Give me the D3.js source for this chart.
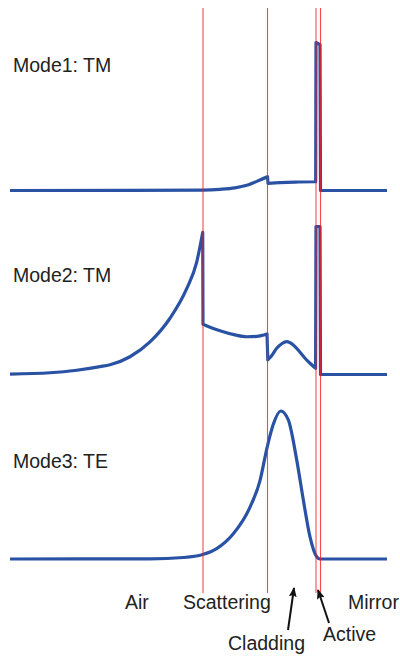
<!DOCTYPE html>
<html lang="en">
<head>
  <meta charset="UTF-8">
  <title>Mode profiles</title>
  <script src="https://d3js.org/d3.v7.min.js"></script>
  <style>
    html, body {
      margin: 0;
      padding: 0;
      background: #fff;
    }
    svg text {
      font-family: "Liberation Sans", Arial, Helvetica, sans-serif;
      font-size: 19.5px;
      fill: #222;
    }
  </style>
</head>
<body>
  <svg id="canvas" width="400" height="656"></svg>

  <script>
    // layer boundaries (position across the stack, arbitrary units)
    let boundaries = [193, 257.5, 306, 310.5]

    let modeLabels = ['Mode1: TM', 'Mode2: TM', 'Mode3: TE']

    // field amplitude, normalised to peak; each mode is a list of segments, jumps happen between segments
    let mode1 = [
      [[0, 0], [120, 0.001], [193, 0.003], [210, 0.008], [225, 0.018], [236.7, 0.035], [250, 0.071], [257.5, 0.093]],
      [[258, 0.048], [270, 0.053], [285, 0.057], [305.7, 0.059]],
      [[306, 1.0], [310, 0.985]],
      [[310.5, 0], [377, 0]]
    ]

    let mode2 = [
      [[0, 0.003], [40, 0.012], [65, 0.027], [90, 0.053], [100, 0.066], [120, 0.12], [140, 0.22], [160, 0.38], [176.7, 0.58], [186.7, 0.76], [192.7, 0.96]],
      [[193, 0.34], [200, 0.32], [210, 0.296], [225, 0.268], [236.7, 0.255], [247, 0.258], [257, 0.274]],
      [[257.8, 0.098], [262, 0.13], [266.7, 0.177], [271.7, 0.208], [276.7, 0.222], [283.3, 0.2], [290, 0.15], [295, 0.11], [300, 0.076], [305.6, 0.042]],
      [[306, 1.0], [310, 1.0]],
      [[310.5, 0], [377, 0]]
    ]

    let mode3 = [
      [[0, 0], [140, 0.001], [173.3, 0.01], [192.7, 0.03], [206.7, 0.07], [223.3, 0.17], [240, 0.35], [250, 0.53], [257.3, 0.76],
       [263.3, 0.91], [270.7, 1.0], [278.3, 0.94], [286.7, 0.67], [293.3, 0.40], [300, 0.15], [306.7, 0.015], [310, 0], [377, 0]]
    ]

    let modes = [mode1, mode2, mode3]

    let regionLabels = ['Air', 'Scattering', 'Cladding', 'Active', 'Mirror']

    let canvas = d3.select('#canvas')

    let xScale = d3.scaleLinear().domain([0, 377]).range([10, 387])

    // one panel per mode, baseline and height in px
    let baselines = [190.5, 374.5, 559]
    let panelHeight = 148

    let drawModes = () => {
      modes.forEach((segments, i) => {
        let yScale = d3.scaleLinear().domain([0, 1]).range([baselines[i], baselines[i] - panelHeight])
        let line = d3.line()
          .x(d => xScale(d[0]))
          .y(d => yScale(d[1]))
          .curve(d3.curveMonotoneX)
        // join segments with straight vertical jumps
        let d = segments.map((seg, k) => k ? line(seg).replace(/^M/, 'L') : line(seg)).join('')
        canvas.append('path')
          .attr('d', d)
          .attr('fill', 'none')
          .attr('stroke', '#2a52a4')
          .attr('stroke-width', 3.2)
          .attr('stroke-linejoin', 'round')

        canvas.append('text')
          .attr('x', 13)
          .attr('y', [72, 282, 468][i])
          .text(modeLabels[i])
      })
    }

    let drawBoundaries = () => {
      canvas.selectAll('line.boundary')
        .data(boundaries)
        .enter()
        .append('line')
        .attr('class', 'boundary')
        .attr('x1', d => xScale(d))
        .attr('x2', d => xScale(d))
        .attr('y1', 8)
        .attr('y2', 593)
        .attr('stroke', '#f01c22')
        .attr('stroke-opacity', 0.8)
        .attr('stroke-width', 1.1)
    }

    let drawLabels = () => {
      canvas.append('defs').append('marker')
        .attr('id', 'head')
        .attr('viewBox', '0 0 10 8')
        .attr('refX', 9)
        .attr('refY', 4)
        .attr('markerWidth', 10)
        .attr('markerHeight', 8)
        .attr('markerUnits', 'userSpaceOnUse')
        .attr('orient', 'auto')
        .append('path')
        .attr('d', 'M0,0 L10,4 L0,8 L2,4 z')
        .attr('fill', '#111')

      // label x (domain units), baseline y
      let placement = [[115, 609], [173, 609], [218, 650], [313, 641], [338, 609]]
      canvas.selectAll('text.region')
        .data(regionLabels)
        .enter()
        .append('text')
        .attr('class', 'region')
        .attr('x', (d, i) => xScale(placement[i][0]))
        .attr('y', (d, i) => placement[i][1])
        .text(d => d)

      // arrows pointing at the thin layers
      let arrows = [[[278, 630], [284, 588]], [[319, 623], [308, 590]]]
      canvas.selectAll('line.arrow')
        .data(arrows)
        .enter()
        .append('line')
        .attr('class', 'arrow')
        .attr('x1', d => xScale(d[0][0]))
        .attr('y1', d => d[0][1])
        .attr('x2', d => xScale(d[1][0]))
        .attr('y2', d => d[1][1])
        .attr('stroke', '#111')
        .attr('stroke-width', 2)
        .attr('marker-end', 'url(#head)')
    }

    drawModes()
    drawBoundaries()
    drawLabels()
  </script>
</body>
</html>
